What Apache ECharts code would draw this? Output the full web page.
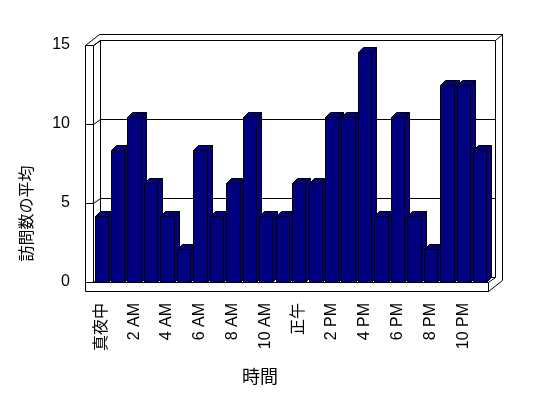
<!DOCTYPE html>
<html>
<head>
<meta charset="utf-8">
<script src="https://cdn.jsdelivr.net/npm/echarts@6/dist/echarts.min.js"></script>
<style>
  html, body { margin: 0; padding: 0; background: #fff; }
  #main { width: 548px; height: 398px; }
</style>
</head>
<body>
<div id="main"></div>
<script>
// 時間帯ごとの訪問数の平均
const hours = ['真夜中', '1 AM', '2 AM', '3 AM', '4 AM', '5 AM', '6 AM', '7 AM', '8 AM', '9 AM', '10 AM', '11 AM',
  '正午', '1 PM', '2 PM', '3 PM', '4 PM', '5 PM', '6 PM', '7 PM', '8 PM', '9 PM', '10 PM', '11 PM']
const visits = [4.17, 8.33, 10.42, 6.25, 4.17, 2.08, 8.33, 4.17, 6.25, 10.42, 4.17, 4.17,
  6.25, 6.25, 10.42, 10.42, 14.58, 4.17, 10.42, 4.17, 2.08, 12.5, 12.5, 8.33]
const yTicks = [0, 5, 10, 15]
const xName = '時間'
const yName = '訪問数の平均'

const FONT = '"Liberation Sans", "Noto Sans CJK JP", sans-serif'
const DEPTH = [7, -5]     // front plane -> back wall
const OUTER = [14, -11]   // front plane -> back of wall slab
const BAR_D = [5, -5]     // bar depth
const WALL_W = 8          // left wall thickness
const FLOOR_H = 9         // floor thickness
const NAVY = '#000080'

const c = v => Math.round(v) + 0.5
const line = (x1, y1, x2, y2) => ({
  type: 'line',
  shape: { x1: c(x1), y1: c(y1), x2: c(x2), y2: c(y2) },
  style: { stroke: '#000', lineWidth: 1 }
})
const poly = (pts, fill) => ({
  type: 'polygon',
  shape: { points: pts.map(p => [c(p[0]), c(p[1])]) },
  style: { fill: fill, stroke: '#000', lineWidth: 1 }
})

// frame corners from the axes
function frameBox (api) {
  const half = api.size([1, 0])[0] / 2
  const p0 = api.coord([0, 0])
  return {
    x0: p0[0] - half,
    x1: api.coord([hours.length - 1, 0])[0] + half,
    y0: p0[1],
    yTop: api.coord([0, yTicks[yTicks.length - 1]])[1]
  }
}

function renderWalls (params, api) {
  const b = frameBox(api)
  const xl = b.x0 - WALL_W
  const yb = b.y0 + FLOOR_H
  const dx = DEPTH[0], dy = DEPTH[1], ox = OUTER[0], oy = OUTER[1]
  return {
    type: 'group',
    children: [
      poly([[xl, yb], [xl, b.yTop], [xl + ox, b.yTop + oy], [b.x1 + ox, b.yTop + oy],
        [b.x1 + ox, yb + oy], [b.x1, yb]], '#fff'),
      poly([[b.x0 + dx, b.yTop + dy], [b.x1 + dx, b.yTop + dy], [b.x1 + dx, b.y0 + dy], [b.x0 + dx, b.y0 + dy]], '#fff'),
      line(b.x0, b.yTop, b.x0, b.y0),
      line(xl, b.yTop, b.x0, b.yTop),
      line(b.x0, b.yTop, b.x0 + dx, b.yTop + dy),
      line(b.x1 + dx, b.yTop + dy, b.x1 + ox, b.yTop + oy),
      line(b.x1, b.y0, b.x1 + dx, b.y0 + dy),
      line(b.x0, b.y0, b.x1, b.y0),
      line(b.x1, b.y0, b.x1, yb)
    ]
  }
}

function renderGrid (params, api) {
  const b = frameBox(api)
  const y = api.coord([0, api.value(1)])[1]
  const dx = DEPTH[0], dy = DEPTH[1]
  return {
    type: 'group',
    children: [
      line(b.x0 - WALL_W, y, b.x0, y),
      line(b.x0, y, b.x0 + dx, y + dy),
      line(b.x0 + dx, y + dy, b.x1 + dx, y + dy)
    ]
  }
}

function renderBar (params, api) {
  const i = api.value(0)
  const top = api.coord([i, api.value(1)])
  const base = api.coord([i, 0])
  const w = api.size([1, 0])[0] * 0.81
  const xl = top[0] - w / 2, xr = top[0] + w / 2
  const yt = top[1], yb = base[1]
  const bx = BAR_D[0], by = BAR_D[1]
  return {
    type: 'group',
    children: [
      poly([[xr, yt], [xr + bx, yt + by], [xr + bx, yb + by], [xr, yb]], NAVY),
      poly([[xl, yt], [xl + bx, yt + by], [xr + bx, yt + by], [xr, yt]], NAVY),
      poly([[xl, yt], [xr, yt], [xr, yb], [xl, yb]], NAVY)
    ]
  }
}

const chart = echarts.init(document.getElementById('main'))
const option = {
  animation: false,
  backgroundColor: '#fff',
  grid: { left: 93, right: 60, top: 45, bottom: 116 },
  xAxis: {
    type: 'category',
    data: hours,
    name: xName,
    nameLocation: 'middle',
    nameGap: 87,
    nameTextStyle: { fontSize: 18, color: '#000', fontFamily: FONT, padding: [0, 61, 0, 0] },
    axisLine: { show: false },
    axisTick: { show: true, length: 9, interval: 0, lineStyle: { color: '#000' } },
    axisLabel: {
      interval: 1,
      rotate: 90,
      margin: 21,
      fontSize: 16,
      color: '#000',
      fontFamily: FONT
    },
    splitLine: { show: false }
  },
  yAxis: {
    type: 'value',
    min: 0,
    max: 15,
    interval: 5,
    name: yName,
    nameLocation: 'middle',
    nameRotate: 90,
    nameGap: 57,
    nameTextStyle: { fontSize: 16, color: '#000', fontFamily: FONT, padding: [0, 100, 0, 0] },
    axisLine: { show: false },
    axisTick: { show: false },
    splitLine: { show: false },
    axisLabel: { margin: 23, fontSize: 16, color: '#000', fontFamily: FONT }
  },
  series: [
    {
      type: 'custom',
      z: 1,
      clip: false,
      silent: true,
      renderItem: renderWalls,
      data: [[0, 0]]
    },
    {
      type: 'custom',
      z: 2,
      clip: false,
      silent: true,
      renderItem: renderGrid,
      encode: { x: 0, y: 1 },
      data: yTicks.map(v => [0, v])
    },
    {
      type: 'custom',
      name: yName,
      z: 3,
      clip: false,
      renderItem: renderBar,
      encode: { x: 0, y: 1 },
      data: visits.map((v, i) => [i, v])
    }
  ]
}
chart.setOption(option)
window.addEventListener('resize', function () {
  chart.resize()
})
</script>
</body>
</html>
